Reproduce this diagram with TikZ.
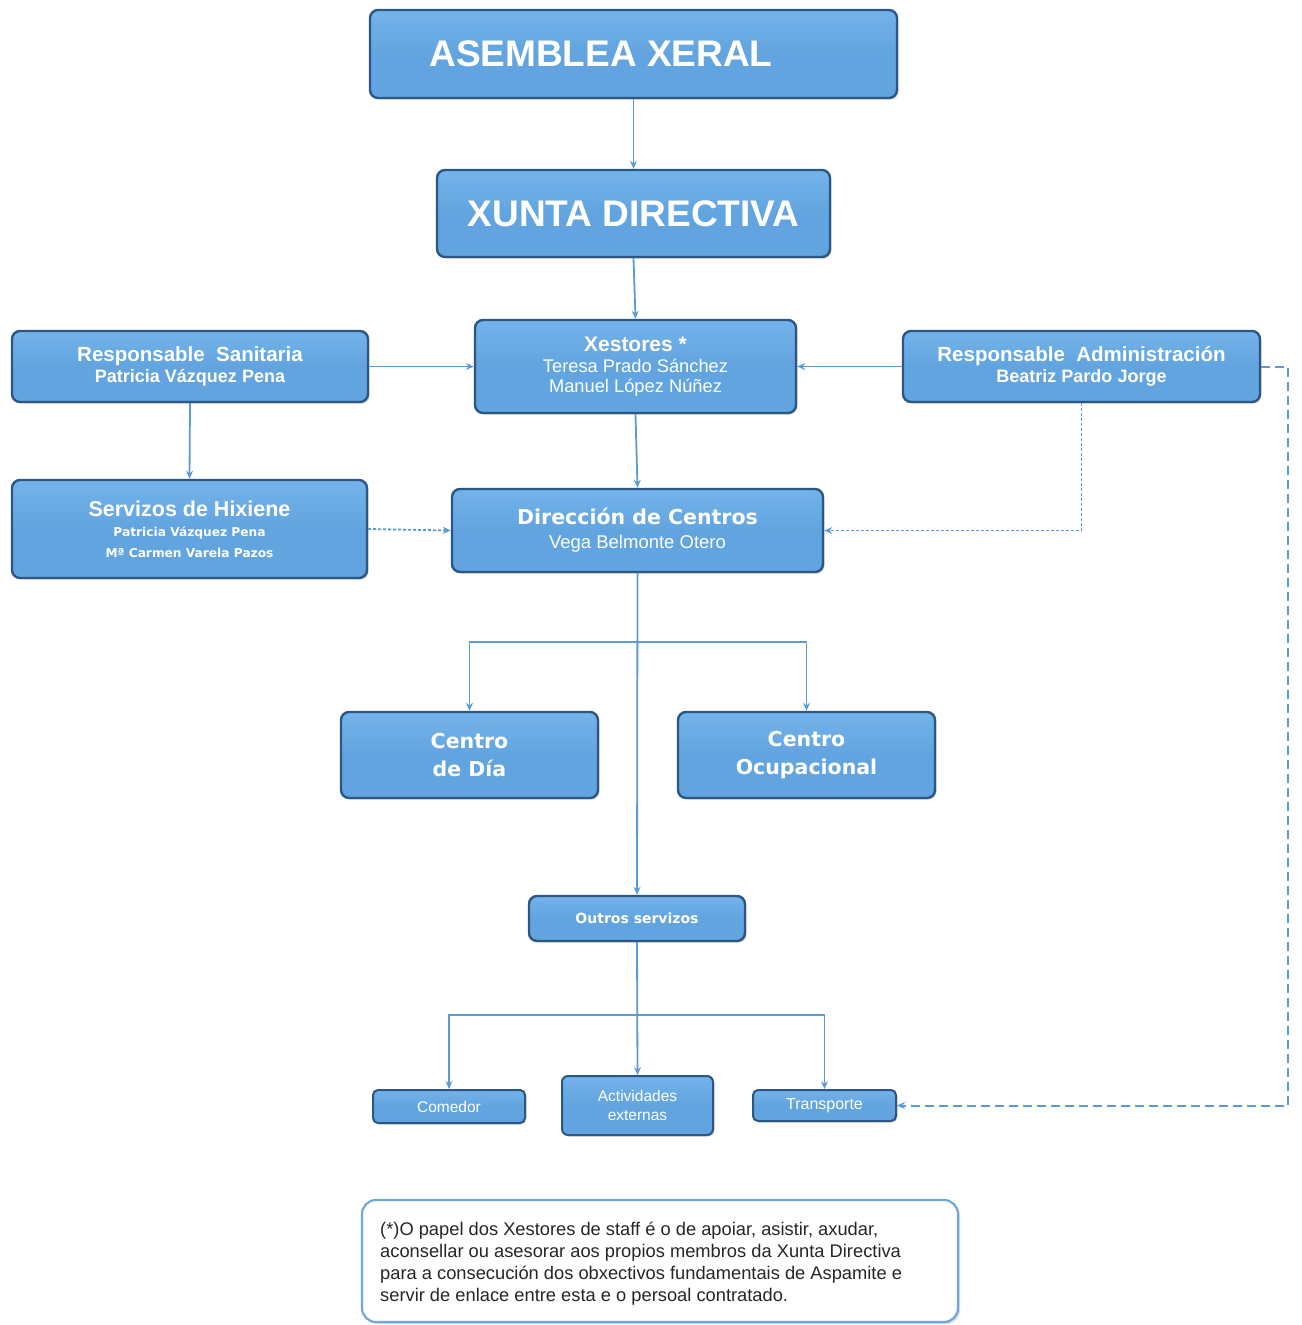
\documentclass[tikz,border=0pt]{standalone}
\usepackage{fontspec}
\setmainfont{Liberation Sans}
\newfontfamily\dvf{DejaVu Sans}
\usetikzlibrary{arrows.meta,shadows}
\definecolor{boxfill}{HTML}{62A4DF}
\definecolor{boxtop}{HTML}{74B3EA}
\definecolor{boxedge}{HTML}{2C5784}
\definecolor{linkc}{HTML}{5B9BD5}
\definecolor{notec}{HTML}{6FA8DC}
\newcommand{\fz}[1]{\fontsize{#1}{#1}\selectfont}
\begin{document}
\begin{tikzpicture}[x=1pt,y=-1pt,
  orgbox/.style={draw=boxedge, line width=2.4pt, rounded corners=8pt,
    top color=boxtop, bottom color=boxfill, middle color=boxfill,
    text=white, align=center, inner sep=0pt,
    drop shadow={shadow xshift=1.5pt, shadow yshift=-1.5pt, opacity=0.35, fill=gray}},
  link/.style={draw=linkc, line width=1.8pt, -{Stealth[length=8pt,width=7pt]}},
  dlink/.style={link, dash pattern=on 3pt off 2pt},
  llink/.style={link, dash pattern=on 9pt off 5pt, line width=2pt},
  notebox/.style={draw=notec, line width=2.2pt, rounded corners=14pt, fill=white,
    drop shadow={shadow xshift=2pt, shadow yshift=-2pt, opacity=0.3, fill=gray},
    inner sep=0pt}]
\useasboundingbox (0,0) rectangle (1301,1325);

\node[orgbox, minimum width=527pt, minimum height=88pt] (ase) at (633.5,54)
  {\fz{37}\bfseries ASEMBLEA XERAL\hspace*{65pt}};
\node[orgbox, minimum width=393pt, minimum height=87pt] (xun) at (633.5,213.5)
  {\fz{37}\bfseries XUNTA DIRECTIVA};

\node[orgbox, minimum width=356pt, minimum height=71pt] (san) at (190,366.5)
  {{\fz{20.5}\bfseries Responsable\ \ Sanitaria}\\[3pt]{\fz{18}\bfseries Patricia Vázquez Pena}};
\node[orgbox, minimum width=321pt, minimum height=93pt] (xes) at (635.5,366.5)
  {{\fz{21}\bfseries Xestores *}\\[7pt]{\fz{18.3}Teresa Prado Sánchez}\\[5pt]{\fz{18.3}Manuel López Núñez}};
\node[orgbox, minimum width=357pt, minimum height=71pt] (adm) at (1081.5,366.5)
  {{\fz{20.5}\bfseries Responsable\ \ Administración}\\[3pt]{\fz{18}\bfseries Beatriz Pardo Jorge}};

\node[orgbox, minimum width=355pt, minimum height=98pt] (hix) at (189.5,529)
  {{\fz{21.5}\bfseries Servizos de Hixiene}\\[8pt]{\dvf\fz{12.2}\bfseries Patricia Vázquez Pena}\\[9pt]{\dvf\fz{12.2}\bfseries Mª Carmen Varela Pazos}};
\node[orgbox, minimum width=371pt, minimum height=83pt] (dir) at (637.5,530.5)
  {{\dvf\fz{20.5}\bfseries Dirección de Centros}\\[9pt]{\fz{18.5}Vega Belmonte Otero}};

\node[orgbox, minimum width=257pt, minimum height=86pt] (cdia) at (469.5,755)
  {{\dvf\fz{20.5}\bfseries Centro}\\[11pt]{\dvf\fz{20.5}\bfseries de Día}};
\node[orgbox, minimum width=257pt, minimum height=86pt] (cocu) at (806.5,755)
  {{\dvf\fz{20.5}\bfseries Centro}\\[11pt]{\dvf\fz{20.5}\bfseries Ocupacional}};

\node[orgbox, minimum width=216pt, minimum height=45pt] (out) at (637,918.5)
  {\dvf\fz{14}\bfseries Outros servizos};

\node[orgbox, minimum width=152pt, minimum height=33pt, line width=2pt, rounded corners=5pt] (com) at (449,1106.5)
  {\fz{15.5}Comedor};
\node[orgbox, minimum width=151pt, minimum height=59pt, line width=2pt, rounded corners=6pt] (act) at (637.5,1105.5)
  {{\fz{15.5}Actividades}\\[7pt]{\fz{15.5}externas}};
\node[orgbox, minimum width=143pt, minimum height=31pt, line width=2pt, rounded corners=5pt] (tra) at (824.5,1105.5)
  {\fz{16}Transporte};

\node[notebox, minimum width=596pt, minimum height=122pt] (note) at (660,1261) {};
\node[anchor=north west, align=left, inner sep=0pt, text=black!85] (notetxt) at (380,1222)
  {\fz{18.3}(*)O papel dos Xestores de staff é o de apoiar, asistir, axudar,\\[3.7pt]
   \fz{18.3}aconsellar ou asesorar aos propios membros da Xunta Directiva\\[3.7pt]
   \fz{18.3}para a consecución dos obxectivos fundamentais de Aspamite e\\[3.7pt]
   \fz{18.3}servir de enlace entre esta e o persoal contratado.};

% connectors
\draw[link] (ase.south) -- (xun.north);
\draw[link] (xun.south) -- (xes.north);
\draw[link] (san.east) -- (xes.west);
\draw[link] (adm.west) -- (xes.east);
\draw[link] (san.south) -- (hix.north);
\draw[link] (xes.south) -- (dir.north);
\draw[dlink] (hix.east) -- (dir.west);
\draw[dlink] (adm.south) |- (dir.east);
\coordinate (rr) at (1288,700);
\draw[llink] (adm.east) -| (rr) |- (tra.east);
\draw[link] (dir.south) -- (out.north);
\coordinate (b1) at (637,642);
\draw[link] (b1) -| (cdia.north);
\draw[link] (b1) -| (cocu.north);
\draw[link] (out.south) -- (act.north);
\coordinate (b2) at (637,1015);
\draw[link] (b2) -| (com.north);
\draw[link] (b2) -| (tra.north);
\end{tikzpicture}
\end{document}
